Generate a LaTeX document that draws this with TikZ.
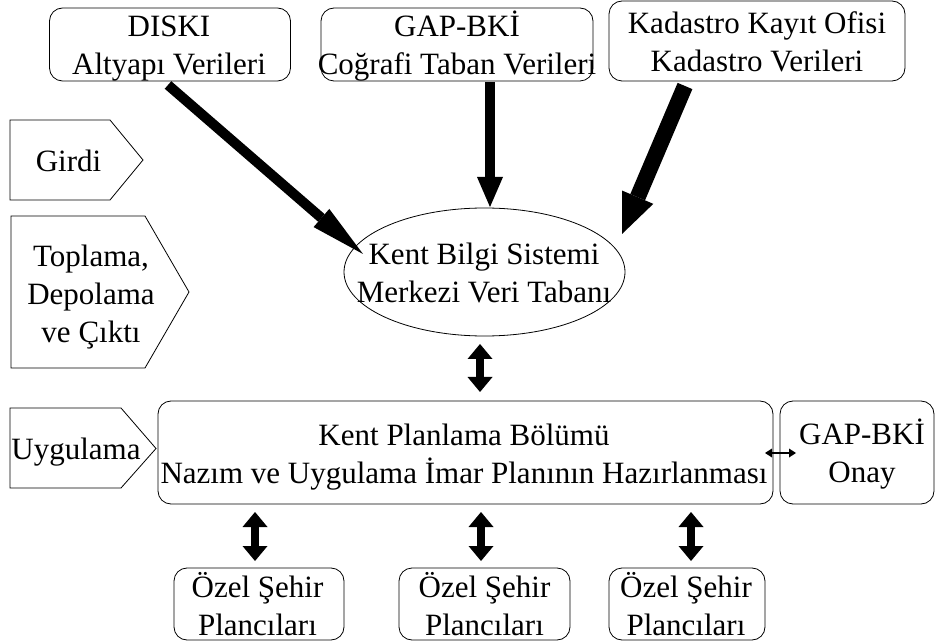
\documentclass[tikz,border=0pt]{standalone}
\usepackage{fontspec}
\setmainfont{Liberation Serif}
\usetikzlibrary{arrows.meta,shapes.geometric,calc}
\newcommand\dgfont{\fontsize{31}{38}\selectfont}
\begin{document}
\begin{tikzpicture}[x=1pt,y=-1pt,
  box/.style={draw, rounded corners=13pt, line width=0.8pt, outer sep=0pt, inner sep=0pt},
  oval/.style={draw, ellipse, line width=0.8pt, outer sep=0pt, inner sep=0pt},
  txt/.style={align=center, font=\dgfont, inner sep=0pt, outer sep=0pt},
  tag/.style={draw, line width=0.8pt, line join=miter},
  arrA/.style={line width=10pt, -{Triangle[length=55pt,width=24pt,line width=0pt]}},
  arrB/.style={line width=10pt, -{Triangle[length=30pt,width=26pt,line width=0pt]}},
  arrC/.style={line width=16pt, -{Triangle[length=40pt,width=34pt,line width=0pt]}},
  dbl/.style={line width=8pt, {Triangle[length=15pt,width=25pt,line width=0pt]}-{Triangle[length=15pt,width=25pt,line width=0pt]}},
  sdbl/.style={line width=2.5pt, {Triangle[length=7pt,width=9pt,line width=0pt]}-{Triangle[length=7pt,width=9pt,line width=0pt]}}
]
\useasboundingbox (0,0) rectangle (935,644);

% top boxes
\node[box, minimum width=241pt, minimum height=73pt] (diski) at (170,44.5) {};
\node[txt] (diskiT) at (169,49) {DISKI\\Altyapı Verileri};
\node[box, minimum width=272pt, minimum height=73pt] (gap) at (457,44.5) {};
\node[txt] (gapT) at (457,46.5) {GAP-BKİ\\Coğrafi Taban Verileri};
\node[box, minimum width=296pt, minimum height=80pt] (kad) at (757,41) {};
\node[txt] (kadT) at (757,42) {Kadastro Kayıt Ofisi\\Kadastro Verileri};

% left tags
\draw[tag] (10,120) -- (110,120) -- (143,160) -- (110,200) -- (10,200) -- cycle;
\node[txt] (girdiT) at (68.5,161) {Girdi};
\draw[tag] (11,216) -- (145,216) -- (189,292) -- (145,368) -- (11,368) -- cycle;
\node[txt] (toplT) at (91,297) {Toplama,\\Depolama\\ve Çıktı};
\draw[tag] (10,408) -- (121,408) -- (156,448.5) -- (121,488) -- (10,488) -- cycle;
\node[txt] (uygT) at (76,452) {Uygulama};

% ellipse
\node[oval, minimum width=281pt, minimum height=128pt] (kbs) at (484.5,272) {};
\node[txt] (kbsT) at (484,273) {Kent Bilgi Sistemi\\Merkezi Veri Tabanı};

% planning box and approval
\node[box, minimum width=615pt, minimum height=103pt] (kp) at (465.5,452.5) {};
\node[txt] (kpT) at (464,457) {Kent Planlama Bölümü\\Nazım ve Uygulama İmar Planının Hazırlanması};
\node[box, minimum width=154pt, minimum height=103pt] (onay) at (857,452.5) {};
\node[txt] (onayT) at (862,454.5) {GAP-BKİ\\Onay};

% bottom boxes
\node[box, minimum width=170pt, minimum height=72pt] (o1) at (259,604) {};
\node[txt] (o1T) at (257.5,604) {Özel Şehir\\Plancıları};
\node[box, minimum width=171pt, minimum height=72pt] (o2) at (484.5,604) {};
\node[txt] (o2T) at (484.5,604) {Özel Şehir\\Plancıları};
\node[box, minimum width=156pt, minimum height=72pt] (o3) at (687,604) {};
\node[txt] (o3T) at (686,604) {Özel Şehir\\Plancıları};

% connectors
\draw[arrA] ($(diski.south)+(-2,4)$) -- ($(kbs.center)+(-121.5,-18)$);
\draw[arrB] ($(gap.south)+(33,1)$) -- ($(kbs.north)+(5.5,-1)$);
\draw[arrC] ($(kad.south)+(-72,5)$) -- ($(kbs.center)+(137.5,-38)$);
\draw[dbl] ($(kbs.south)+(-4.5,8)$) -- ($(kp.north)+(14.5,-9)$);
\draw[dbl] ($(kp.south -| o1.north)+(-4,8)$) -- ($(o1.north)+(-4,-7)$);
\draw[dbl] ($(kp.south -| o2.north)+(-3.5,8)$) -- ($(o2.north)+(-3.5,-7)$);
\draw[dbl] ($(kp.south -| o3.north)+(4,8)$) -- ($(o3.north)+(4,-7)$);
\draw[sdbl] ($(kp.east)+(-8,0.5)$) -- ($(onay.west)+(16,0.5)$);
\end{tikzpicture}
\end{document}
